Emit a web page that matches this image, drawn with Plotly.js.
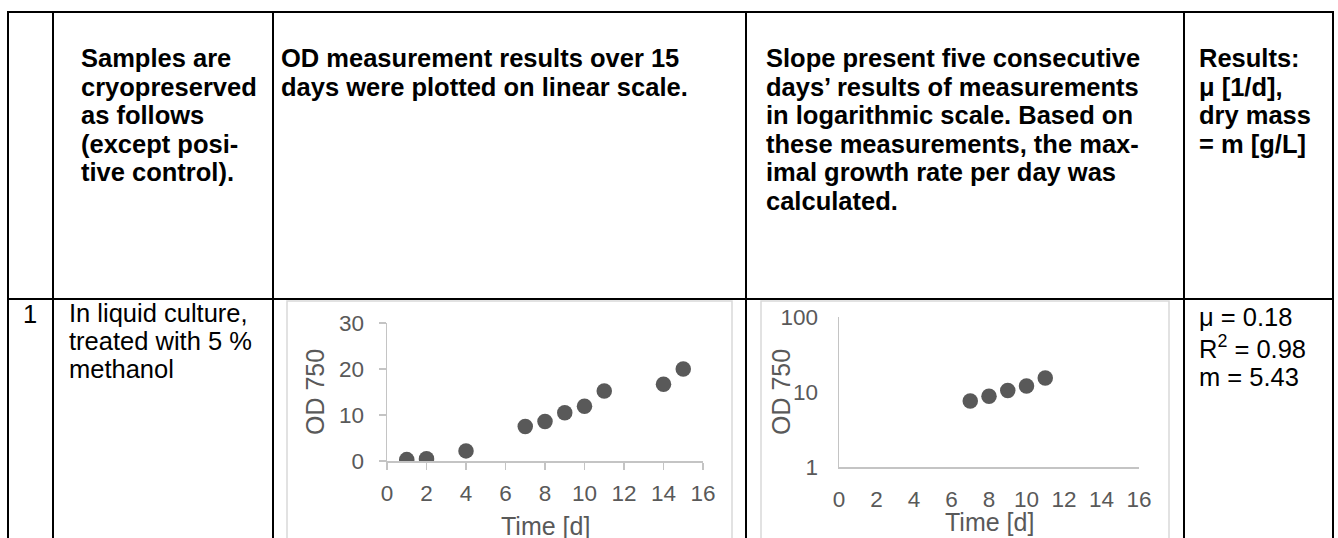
<!DOCTYPE html>
<html>
<head>
<meta charset="utf-8">
<script src="https://cdn.plot.ly/plotly-3.0.1.min.js"></script>
<style>html,body{margin:0;padding:0;background:#fff;}#chart{width:1338px;height:538px;}</style>
</head>
<body>
<div id="chart"></div>
<script>
// ---- data ----
const days = [1, 2, 4, 7, 8, 9, 10, 11, 14, 15];
const od750 = [0.3, 0.5, 2.2, 7.5, 8.6, 10.5, 11.9, 15.2, 16.7, 20.0];
const slopeDays = [7, 8, 9, 10, 11];
const slopeOD = [7.6, 8.8, 10.5, 12.0, 15.4];

const headerCol2 = ["Samples are", "cryopreserved", "as follows", "(except posi-", "tive control)."];
const headerCol3 = ["OD measurement results over 15", "days were plotted on linear scale."];
const headerCol4 = ["Slope present five consecutive", "days\u2019 results of measurements", "in logarithmic scale. Based on", "these measurements, the max-", "imal growth rate per day was", "calculated."];
const headerCol5 = ["Results:", "\u03bc [1/d],", "dry mass", "= m [g/L]"];
const rowNumber = "1";
const rowDesc = ["In liquid culture,", "treated with 5 %", "methanol"];
const rowResults = ["\u03bc = 0.18", "R<sup>2</sup> = 0.98", "m = 5.43"];

// ---- layout helpers ----
const W = 1338, H = 538;
const X = px => px / W;
const Y = py => 1 - py / H;
const FONT = "Liberation Sans, Arial, sans-serif";
const GRAY = "#595959";
const AXC = "#c4c4c4";

const shapes = [];
function line(x0, y0, x1, y1, color, width) {
  shapes.push({type: "line", xref: "paper", yref: "paper", x0: X(x0), y0: Y(y0), x1: X(x1), y1: Y(y1),
    line: {color: color, width: width}, layer: "above"});
}
// table grid
const colX = [8, 53, 273, 746, 1184, 1333];
line(colX[0], 12, colX[5], 12, "#000", 2);
line(colX[0], 299, colX[5], 299, "#000", 2);
colX.forEach(cx => line(cx, 11, cx, 540, "#000", 2));
// chart frames
shapes.push({type: "rect", xref: "paper", yref: "paper", x0: X(287), y0: Y(301), x1: X(732), y1: Y(560),
  line: {color: "#d9d9d9", width: 1.5}, layer: "below"});
shapes.push({type: "rect", xref: "paper", yref: "paper", x0: X(761), y0: Y(301), x1: X(1169), y1: Y(560),
  line: {color: "#d9d9d9", width: 1.5}, layer: "below"});

const annotations = [];
function text(t, x, y, size, bold, opts) {
  annotations.push(Object.assign({
    xref: "paper", yref: "paper", x: X(x), y: Y(y), text: bold ? "<b>" + t + "</b>" : t,
    showarrow: false, xanchor: "left", yanchor: "middle", align: "left",
    font: {family: FONT, size: size, color: "#000"}
  }, opts || {}));
}
function block(lines, x, y0, dy, size, bold) {
  lines.forEach((t, i) => text(t, x, y0 + i * dy, size, bold));
}
const HS = 25.5;
block(headerCol2, 79, 58, 28.6, HS, true);
block(headerCol3, 279, 58, 28.6, HS, true);
block(headerCol4, 764, 58, 28.6, HS, true);
block(headerCol5, 1197, 58, 28.6, HS, true);
text(rowNumber, 30, 314, HS, false, {xanchor: "center"});
block(rowDesc, 67, 313, 28, HS, false);
block(rowResults, 1197, 317, 30, HS, false);

// axis titles
function axTitle(t, x, y, rot) {
  annotations.push({xref: "paper", yref: "paper", x: X(x), y: Y(y), text: t, showarrow: false,
    xanchor: "center", yanchor: "middle", textangle: rot || 0,
    font: {family: FONT, size: 25, color: GRAY}});
}
axTitle("Time [d]", 545, 526);
axTitle("OD 750", 315, 392, -90);
axTitle("Time [d]", 989, 522);
axTitle("OD 750", 781, 392, -90);

const tickFont = {family: FONT, size: 22.5, color: GRAY};
const common = {showgrid: false, zeroline: false, showline: true, linecolor: AXC, linewidth: 1.5,
  tickfont: tickFont, fixedrange: true};

const traces = [
  {type: "scatter", mode: "markers", x: days, y: od750, xaxis: "x", yaxis: "y",
   marker: {size: 15.5, color: GRAY}, hoverinfo: "x+y"},
  {type: "scatter", mode: "markers", x: slopeDays, y: slopeOD, xaxis: "x2", yaxis: "y2",
   marker: {size: 15.5, color: GRAY}, hoverinfo: "x+y"}
];

const layout = {
  width: W, height: H, margin: {l: 0, r: 0, t: 0, b: 0, pad: 0},
  paper_bgcolor: "#fff", plot_bgcolor: "rgba(0,0,0,0)", showlegend: false,
  font: {family: FONT},
  xaxis: Object.assign({}, common, {domain: [X(387), X(703)], range: [0, 16], dtick: 2, tick0: 0,
    ticks: "outside", ticklen: 7, tickcolor: AXC, tickwidth: 1.5, ticklabelstandoff: 4, anchor: "y"}),
  yaxis: Object.assign({}, common, {domain: [Y(461), Y(323)], range: [0, 30], dtick: 10, tick0: 0,
    ticks: "outside", ticklen: 7, tickcolor: AXC, tickwidth: 1.5, ticklabelstandoff: 10, anchor: "x"}),
  xaxis2: Object.assign({}, common, {domain: [X(839), X(1139)], range: [0, 16], dtick: 2, tick0: 0,
    ticks: "", ticklabelstandoff: 11, anchor: "y2"}),
  yaxis2: Object.assign({}, common, {type: "log", domain: [Y(467), Y(317)], range: [0, 2], dtick: 1,
    ticks: "", ticklabelstandoff: 15, anchor: "x2"}),
  shapes: shapes,
  annotations: annotations
};

Plotly.newPlot("chart", traces, layout, {displayModeBar: false, staticPlot: true});
</script>
</body>
</html>
